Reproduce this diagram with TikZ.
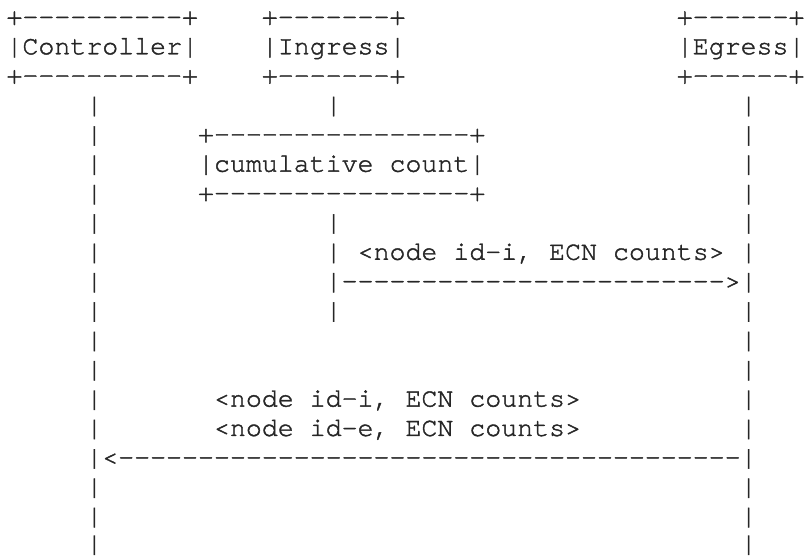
\documentclass[tikz,border=0pt]{standalone}
\usepackage{fontspec}
\newfontfamily\asciimono[Ligatures=TeXOff,FakeBold=1.5]{texgyrecursor-regular.otf}
\newcommand{\dsh}[1]{\foreach \i in {1,...,#1}{-}}
\begin{document}
\begin{tikzpicture}[x=1pt,y=1pt,
  txt/.style={inner sep=0pt, outer sep=0pt, anchor=base west,
    font=\asciimono\fontsize{26.6}{29.36}\selectfont, text=black!85}]
\useasboundingbox (0,0) rectangle (805,556);
% column c starts at x = 6.5 + 15.96*c ; row r baseline at 531.1 - 29.36*(r-1)
% row 1
\node[txt] (ctrlTop) at (6.5,531.1) {+\dsh{10}+};
\node[txt] (ingTop)  at ({6.5+15.96*16},531.1) {+\dsh{7}+};
\node[txt] (egTop)   at ({6.5+15.96*42},531.1) {+\dsh{6}+};
% row 2
\node[txt] (ctrlLbl) at (6.5,501.74) {|Controller|};
\node[txt] (ingLbl)  at ({6.5+15.96*16},501.74) {|Ingress|};
\node[txt] (egLbl)   at ({6.5+15.96*42},501.74) {|Egress|};
% row 3
\node[txt] (ctrlBot) at (6.5,472.38) {+\dsh{10}+};
\node[txt] (ingBot)  at ({6.5+15.96*16},472.38) {+\dsh{7}+};
\node[txt] (egBot)   at ({6.5+15.96*42},472.38) {+\dsh{6}+};
% lifelines of Controller and Egress
\foreach \r in {4,...,18}{
  \node[txt] (ctl\r) at ({6.5+15.96*5},{531.1-29.36*(\r-1)}) {|};
  \node[txt] (egl\r) at ({6.5+15.96*46},{531.1-29.36*(\r-1)}) {|};
}
\node[txt] (ctl19) at ({6.5+15.96*5},4.4) {|};
\node[txt] (egl19) at ({6.5+15.96*46},4.4) {|};
% Ingress lifeline
\foreach \r in {4,8,9,10,11}{
  \node[txt] (ing\r) at ({6.5+15.96*20},{531.1-29.36*(\r-1)}) {|};
}
% cumulative count box
\node[txt] (cumTop) at ({6.5+15.96*12},413.66) {+\dsh{16}+};
\node[txt] (cumLbl) at ({6.5+15.96*12},384.3)  {|cumulative count|};
\node[txt] (cumBot) at ({6.5+15.96*12},354.94) {+\dsh{16}+};
% message Ingress -> Egress
\node[txt] (msgOne) at ({6.5+15.96*22},296.22) {<node id-i, ECN counts>};
\node[txt] (arrOne) at ({6.5+15.96*21},266.86) {\dsh{24}>};
% message Egress -> Controller
\node[txt] (msgTwoA) at ({6.5+15.96*13},149.42) {<node id-i, ECN counts>};
\node[txt] (msgTwoB) at ({6.5+15.96*13},120.06) {<node id-e, ECN counts>};
\node[txt] (arrTwo)  at ({6.5+15.96*6},90.7) {<\dsh{39}};
\end{tikzpicture}
\end{document}
